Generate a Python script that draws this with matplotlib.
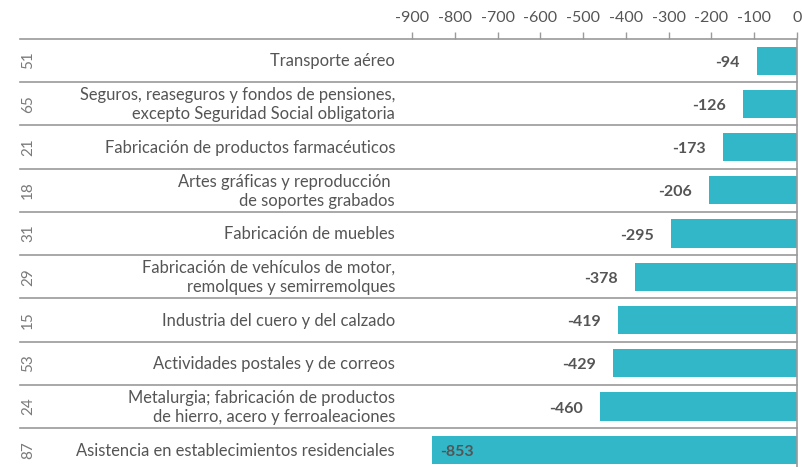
import matplotlib.pyplot as plt
import numpy as np

plt.rcParams['font.family'] = ['Lato', 'DejaVu Sans']

codes = ['51', '65', '21', '18', '31', '29', '15', '53', '24', '87']
sectors = [
    'Transporte aéreo',
    'Seguros, reaseguros y fondos de pensiones,\nexcepto Seguridad Social obligatoria',
    'Fabricación de productos farmacéuticos',
    'Artes gráficas y reproducción \nde soportes grabados',
    'Fabricación de muebles',
    'Fabricación de vehículos de motor,\nremolques y semirremolques',
    'Industria del cuero y del calzado',
    'Actividades postales y de correos',
    'Metalurgia; fabricación de productos\nde hierro, acero y ferroaleaciones',
    'Asistencia en establecimientos residenciales',
]
values = [-94, -126, -173, -206, -295, -378, -419, -429, -460, -853]
ticks = [-900, -800, -700, -600, -500, -400, -300, -200, -100, 0]

W, H = 802, 467
fig = plt.figure(figsize=(W / 100, H / 100), dpi=100)
ax = fig.add_axes([412 / W, 0, (797 - 412) / W, 1 - 39 / H])

bar_color = '#31b7c8'
text_color = '#555555'
line_color = '#9a9a9a'

y = np.arange(len(values)) + 0.5
ax.barh(y, values, height=0.65, color=bar_color, zorder=2)
ax.set_xlim(-900, 0)
ax.set_ylim(9.9, 0)

# value labels
for yi, v in zip(y, values):
    if v < -800:
        ax.text(v + 18, yi + 0.05, str(v), ha='left', va='center',
                fontsize=11.5, fontweight='bold', color=text_color, zorder=3)
    else:
        ax.text(v - 40, yi + 0.05, str(v), ha='right', va='center',
                fontsize=11.5, fontweight='bold', color=text_color, zorder=3)

# row separators reaching into the label area
px = (797 - 412) / 900
x_left = -900 - (412 - 20) / px
for i in range(len(values)):
    ax.plot([x_left, 0], [i, i], color=line_color, lw=1.2,
            clip_on=False, zorder=1)

# category labels and codes
x_lab = -900 - (412 - 395) / px
x_code = -900 - (412 - 28) / px
for yi, s, c in zip(y, sectors, codes):
    ax.text(x_lab, yi + 0.02, s, ha='right', va='center', fontsize=11.9,
            color=text_color, linespacing=1.25, clip_on=False)
    ax.text(x_code, yi, c, ha='center', va='center', fontsize=11,
            color='#7a7a7a', rotation=90, clip_on=False)

ax.xaxis.tick_top()
ax.set_xticks(ticks)
ax.set_xticklabels([str(t) for t in ticks])
ax.tick_params(axis='x', length=5, width=1, color=line_color,
               labelsize=11.5, labelcolor=text_color, pad=5)
ax.set_yticks([])
for side in ['left', 'bottom', 'top']:
    ax.spines[side].set_visible(False)
ax.spines['right'].set_color(line_color)
ax.spines['right'].set_linewidth(1.2)

fig.savefig('out.png', dpi=100)
